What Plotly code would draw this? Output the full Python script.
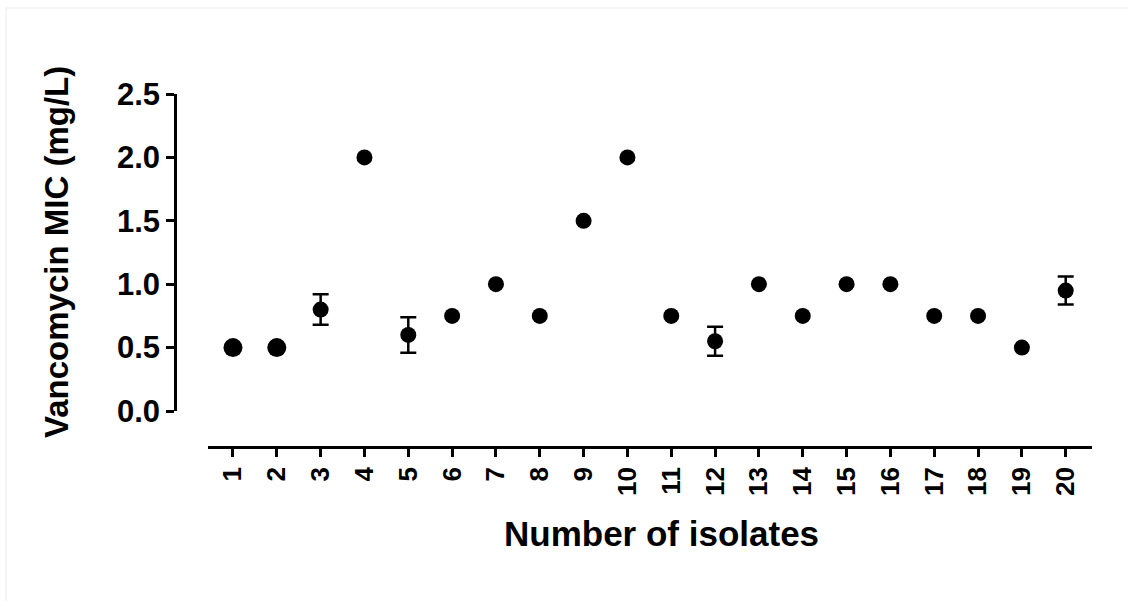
import plotly.graph_objects as go

# Vancomycin MIC per isolate (mean, with SD where replicate values differed)
isolates = list(range(1, 21))
mic_values = [0.5, 0.5, 0.8, 2.0, 0.6, 0.75, 1.0, 0.75, 1.5, 2.0,
              0.75, 0.55, 1.0, 0.75, 1.0, 1.0, 0.75, 0.75, 0.5, 0.95]
mic_sd = [0, 0, 0.12, 0, 0.14, 0, 0, 0, 0, 0,
          0, 0.115, 0, 0, 0, 0, 0, 0, 0, 0.11]
y_ticks = [0.0, 0.5, 1.0, 1.5, 2.0, 2.5]

W, H = 1129, 601
FONT = "Liberation Sans, Arial, sans-serif"

# marker sizes (isolates 1 and 2 drawn slightly heavier)
marker_sizes = [19, 19] + [16] * 18


def px_x(p):
    return p / W


def px_y(p):
    return 1 - p / H


# only isolates with a non-zero SD get error bars
err_idx = [i for i, s in enumerate(mic_sd) if s > 0]

fig = go.Figure()
fig.add_trace(go.Scatter(
    x=[isolates[i] for i in err_idx],
    y=[mic_values[i] for i in err_idx],
    mode="markers",
    marker=dict(color="black", size=1, opacity=0),
    error_y=dict(type="data", array=[mic_sd[i] for i in err_idx], visible=True,
                 color="black", thickness=2.5, width=8),
    cliponaxis=False, hoverinfo="skip", showlegend=False,
))
fig.add_trace(go.Scatter(
    x=isolates, y=mic_values,
    mode="markers",
    marker=dict(color="black", size=marker_sizes, opacity=1,
                line=dict(width=0)),
    cliponaxis=False,
    showlegend=False,
))

axis_common = dict(showgrid=False, zeroline=False, showline=True,
                   linecolor="black", linewidth=2.5, ticks="outside",
                   ticklen=8, tickwidth=2.5, tickcolor="black",
                   automargin=False)

fig.update_layout(
    width=W, height=H,
    margin=dict(l=0, r=0, t=0, b=0),
    paper_bgcolor="white", plot_bgcolor="white",
    xaxis=dict(**axis_common,
               domain=[px_x(208), px_x(1092)],
               range=[0.43, 20.6],
               anchor="free", position=px_y(447),
               tickmode="array", tickvals=isolates,
               ticktext=[str(i) for i in isolates],
               tickangle=-90,
               tickfont=dict(family=FONT, size=26, color="black", weight="bold")),
    yaxis=dict(**axis_common,
               domain=[px_y(411), px_y(94)],
               range=[0, 2.5],
               anchor="free", position=px_x(175),
               tickmode="array", tickvals=y_ticks,
               ticktext=[f"{v:.1f}" for v in y_ticks],
               tickfont=dict(family=FONT, size=31, color="black", weight="bold")),
    annotations=[
        dict(text="Number of isolates", x=px_x(661), y=px_y(533),
             xref="paper", yref="paper", showarrow=False,
             xanchor="center", yanchor="middle",
             font=dict(family=FONT, size=35, color="black", weight="bold")),
        dict(text="Vancomycin MIC (mg/L)", x=px_x(56), y=px_y(252),
             xref="paper", yref="paper", showarrow=False, textangle=-90,
             xanchor="center", yanchor="middle",
             font=dict(family=FONT, size=33, color="black", weight="bold")),
    ],
    shapes=[
        dict(type="line", xref="paper", yref="paper",
             x0=px_x(6), x1=1, y0=px_y(8), y1=px_y(8),
             line=dict(color="#ececec", width=1)),
        dict(type="line", xref="paper", yref="paper",
             x0=px_x(6), x1=px_x(6), y0=px_y(8), y1=0,
             line=dict(color="#ececec", width=1)),
    ],
)

fig.write_html("out.html")
